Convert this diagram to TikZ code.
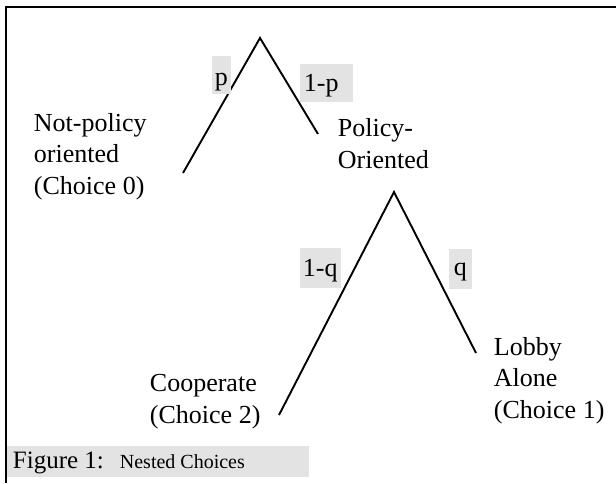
\documentclass[tikz,border=0pt]{standalone}
\usepackage{fontspec}
\setmainfont{Liberation Serif}
\usepackage{xcolor}
\usepackage{tikz}
\definecolor{labelgray}{RGB}{227,227,227}

\begin{document}
\begin{tikzpicture}[x=1pt, y=-1pt, line width=1.9pt,
    choice/.style={anchor=base west, align=flush left, inner sep=0pt, font=\fontsize{26}{31.5}\selectfont},
    prob/.style={anchor=base west, fill=labelgray, inner ysep=0pt, font=\fontsize{26}{31.5}\selectfont}]
  \useasboundingbox (0,0) rectangle (616,483);
  \draw[line width=2.5pt] (616,7) -- (6,7) -- (6,483);
  \coordinate (root) at (260,38);
  \coordinate (notpol) at (183,173);
  \coordinate (pol) at (318,134);
  \coordinate (split) at (394,192);
  \coordinate (coop) at (279,415);
  \coordinate (lobby) at (476,353);
  \draw (notpol) -- (root) -- (pol);
  \draw (coop) -- (split) -- (lobby);
  \node[prob, inner xsep=3pt, text height=29pt, text depth=9pt] (p) at (211,85) {p};
  \node[prob, inner xsep=4pt, text width=45pt, align=flush left, text height=27pt, text depth=11pt] (1p) at (299,91) {1-p};
  \node[prob, inner xsep=3pt, text height=28pt, text depth=12pt] (1q) at (299,276) {1-q};
  \node[prob, inner xsep=5pt, text height=26pt, text depth=14pt] (q) at (448,275) {q};
  \node[choice] (c0) at (33,194) {Not-policy\\oriented\\(Choice 0)};
  \node[choice] (po) at (337,168) {Policy-\\Oriented};
  \node[choice] (c2) at (149,423) {Cooperate\\(Choice 2)};
  \node[choice] (c1) at (493,418) {Lobby\\Alone\\(Choice 1)};
  \node[prob, inner xsep=6pt, text width=290pt, align=flush left, text height=22pt, text depth=9pt] (cap) at (6,468)
    {\fontsize{25}{30}\selectfont Figure 1:\hspace{16pt}{\fontsize{20}{24}\selectfont Nested Choices}};
\end{tikzpicture}
\end{document}
